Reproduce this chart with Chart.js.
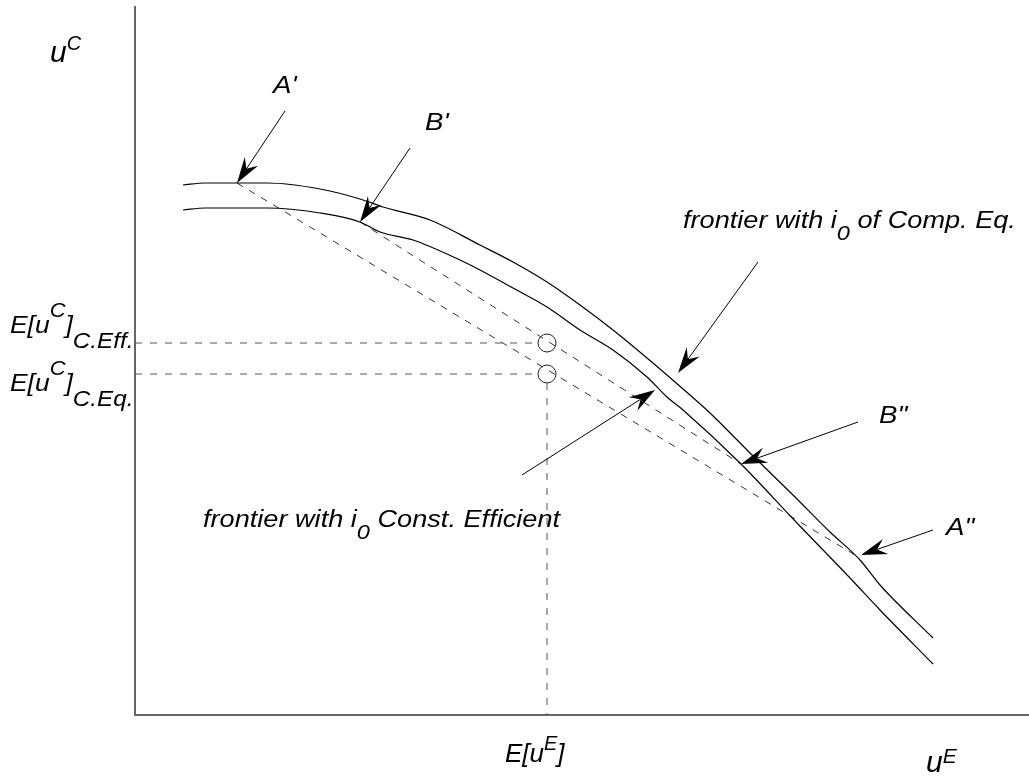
<!DOCTYPE html>
<html>
<head>
<meta charset="utf-8">
<script src="https://cdn.jsdelivr.net/npm/chart.js@4.4.1/dist/chart.umd.min.js"></script>
<style>
  html, body { margin: 0; padding: 0; background: #fff; }
  canvas { display: block; }
</style>
</head>
<body>
<canvas id="frontiers" width="1029" height="776"></canvas>
<script>
// frontier with i0 of Comp. Eq. (outer curve)
const compEqUE = [48, 70, 132, 185, 225, 248, 295, 345, 378, 412, 445, 478, 512, 540, 575, 615, 658, 695, 725, 745, 798];
const compEqUC = [530, 532, 532, 526, 516, 508, 495, 470, 453, 433, 410, 385, 357, 333, 302, 262, 220, 183, 155, 130, 77];

// frontier with i0 Const. Efficient (inner curve)
const constEffUE = [48, 70, 132, 185, 225, 245, 278, 325, 345, 378, 412, 445, 478, 512, 532, 548, 605, 662, 715, 745, 798];
const constEffUC = [505, 507, 507, 502, 493, 483, 475, 455, 445, 427, 408, 385, 365, 338, 318, 305, 252, 192, 137, 105, 51];

// chord end points A'-A'' and B'-B''
const pointA1 = [102, 532];
const pointA2 = [725, 157];
const pointB1 = [225, 493];
const pointB2 = [606, 251];

// expected utilities
const expUE = 412;
const expUCEff = 372;
const expUCEq = 341;
const markerRadius = 9;

const toPoints = (xs, ys) => xs.map((x, i) => ({ x: x, y: ys[i] }));
const seg = (p, q) => [{ x: p[0], y: p[1] }, { x: q[0], y: q[1] }];

const solid = { showLine: true, pointRadius: 0, borderColor: '#000', borderWidth: 1.2, cubicInterpolationMode: 'monotone', fill: false };
const dashed = { showLine: true, pointRadius: 0, borderColor: '#333', borderWidth: 1, borderDash: [7, 7], tension: 0, fill: false };

// arrows: [tailX, tailY, tipX, tipY] in axis units
const arrows = [
  [150, 604, 102, 532],
  [275, 567, 225, 493],
  [623, 453, 543, 342],
  [387, 240, 520, 325],
  [723, 293, 606, 251],
  [798, 185, 726, 160],
];

// labels: runs of [text, size, baseline shift]
const labels = [
  { x: -85, y: 653, sx: 1, runs: [['u', 30, 0], ['C', 20, -12]] },
  { x: -125, y: 382, sx: 1.1, runs: [['E[u', 24, 0], ['C', 20, -16], [']', 24, 0], ['C.Eff.', 22, 15]] },
  { x: -125, y: 324, sx: 1.1, runs: [['E[u', 24, 0], ['C', 20, -16], [']', 24, 0], ['C.Eq.', 22, 15]] },
  { x: 138, y: 622, sx: 1.15, runs: [["A'", 24, 0]] },
  { x: 290, y: 585, sx: 1.15, runs: [["B'", 24, 0]] },
  { x: 744, y: 292, sx: 1.15, runs: [['B"', 24, 0]] },
  { x: 811, y: 180, sx: 1.15, runs: [['A"', 24, 0]] },
  { x: 548, y: 487, sx: 1.18, runs: [['frontier with i', 23, 0], ['0', 20, 12], [' of Comp. Eq.', 23, 0]] },
  { x: 68, y: 188, sx: 1.18, runs: [['frontier with i', 23, 0], ['0', 20, 12], [' Const. Efficient', 23, 0]] },
  { x: 370, y: -47, sx: 1, runs: [['E[u', 26, 0], ['E', 20, -12], [']', 26, 0]] },
  { x: 791, y: -57, sx: 1, runs: [['u', 30, 0], ['E', 21, -9]] },
];

const annotations = {
  id: 'annotations',
  afterDatasetsDraw(chart) {
    const c = chart.ctx;
    const xs = chart.scales.x, ys = chart.scales.y;
    c.save();
    c.fillStyle = '#000';
    c.strokeStyle = '#000';
    c.lineWidth = 1;
    arrows.forEach(a => {
      const x0 = xs.getPixelForValue(a[0]), y0 = ys.getPixelForValue(a[1]);
      const x1 = xs.getPixelForValue(a[2]), y1 = ys.getPixelForValue(a[3]);
      const len = Math.hypot(x1 - x0, y1 - y0);
      const dx = (x1 - x0) / len, dy = (y1 - y0) / len;
      const nx = -dy, ny = dx;
      const L = 26, W = 8, notch = 17;
      c.beginPath();
      c.moveTo(x0, y0);
      c.lineTo(x1 - dx * notch, y1 - dy * notch);
      c.stroke();
      c.beginPath();
      c.moveTo(x1, y1);
      c.lineTo(x1 - dx * L + nx * W, y1 - dy * L + ny * W);
      c.lineTo(x1 - dx * notch, y1 - dy * notch);
      c.lineTo(x1 - dx * L - nx * W, y1 - dy * L - ny * W);
      c.closePath();
      c.fill();
    });
    c.textBaseline = 'alphabetic';
    c.textAlign = 'left';
    labels.forEach(l => {
      c.save();
      c.translate(xs.getPixelForValue(l.x), ys.getPixelForValue(l.y));
      c.scale(l.sx, 1);
      let cx = 0;
      l.runs.forEach(r => {
        c.font = 'italic ' + r[1] + 'px "Liberation Sans", Arial, sans-serif';
        c.fillText(r[0], cx, r[2]);
        cx += c.measureText(r[0]).width;
      });
      c.restore();
    });
    c.restore();
  }
};

var ctx = document.getElementById('frontiers').getContext('2d');

const chart = new Chart(ctx, {
  type: 'scatter',
  data: {
    datasets: [
      Object.assign({ data: toPoints(compEqUE, compEqUC) }, solid),
      Object.assign({ data: toPoints(constEffUE, constEffUC) }, solid),
      Object.assign({ data: seg(pointA1, pointA2) }, dashed),
      Object.assign({ data: seg(pointB1, pointB2) }, dashed),
      Object.assign({ data: seg([0, expUCEff], [expUE - markerRadius, expUCEff]) }, dashed, { borderColor: '#555', borderDash: [7, 8] }),
      Object.assign({ data: seg([0, expUCEq], [expUE - markerRadius, expUCEq]) }, dashed, { borderColor: '#555', borderDash: [7, 8] }),
      Object.assign({ data: seg([expUE, expUCEq - markerRadius], [expUE, 0]) }, dashed, { borderColor: '#555', borderDash: [7, 8] }),
      {
        data: [{ x: expUE, y: expUCEff }, { x: expUE, y: expUCEq }],
        showLine: false,
        pointStyle: 'circle',
        pointRadius: markerRadius,
        pointBackgroundColor: 'rgba(0,0,0,0)',
        pointBorderColor: '#222',
        pointBorderWidth: 1,
      },
    ]
  },
  options: {
    responsive: false,
    devicePixelRatio: 1,
    animation: false,
    layout: { autoPadding: false, padding: { left: 135, right: 0, top: 7, bottom: 61 } },
    plugins: {
      legend: { display: false },
      tooltip: { enabled: false },
    },
    scales: {
      x: {
        type: 'linear',
        min: 0,
        max: 894,
        grid: { display: false, drawTicks: false },
        ticks: { display: false },
        border: { display: true, color: '#666', width: 2 },
      },
      y: {
        type: 'linear',
        min: 0,
        max: 708,
        grid: { display: false, drawTicks: false },
        ticks: { display: false },
        border: { display: true, color: '#666', width: 2 },
      },
    },
  },
  plugins: [annotations],
});
</script>
</body>
</html>
